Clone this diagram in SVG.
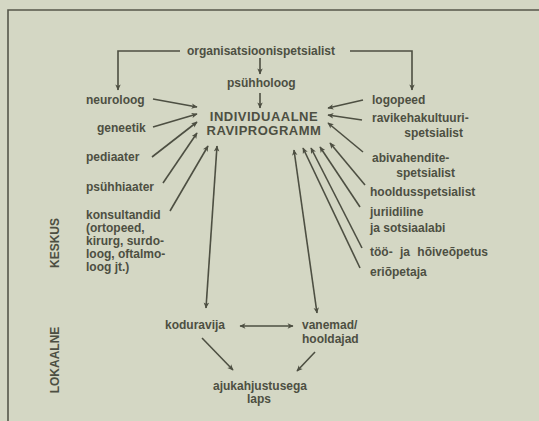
<svg xmlns="http://www.w3.org/2000/svg" width="539" height="421" viewBox="0 0 539 421">
<defs>
<style>
.t{font-family:"Liberation Sans",Arial,sans-serif;font-weight:bold;font-size:12px;fill:#4d4f42}
.big{font-size:13px;letter-spacing:0.5px}
.c{stroke:#4d4f42;stroke-width:1.6;fill:none;marker-end:url(#ah)}
.d{marker-start:url(#ah)}
</style>
<marker id="ah" viewBox="0 0 10 10" refX="9" refY="5" markerWidth="8" markerHeight="6" markerUnits="userSpaceOnUse" orient="auto-start-reverse">
<path d="M0,0.5 L10,5 L0,9.5 L2.5,5 z" fill="#4d4f42"/>
</marker>
</defs>
<rect width="539" height="421" fill="#d4d7c4"/>
<g id="frame" stroke="#55574a" stroke-width="1.6" fill="none">
<path d="M539,10 H8 V421"/>
</g>
<g id="connectors">
<path class="c" d="M180,51 H118 V90"/>
<path class="c" d="M350,51 H412 V90"/>
<path class="c" d="M260,58 V74"/>
<path class="c" d="M260,93 V108"/>
<path class="c" d="M153,99 L197,107"/>
<path class="c" d="M153,127 L197,114"/>
<path class="c" d="M152,157 L197,122"/>
<path class="c" d="M163,183 L197,133"/>
<path class="c" d="M170,211 L208,146"/>
<path class="c d" d="M206,308 L217,146"/>
<path class="c" d="M363,100 L328,108"/>
<path class="c" d="M362,120 L328,115"/>
<path class="c" d="M363,152 L328,123"/>
<path class="c" d="M365,185 L330,143"/>
<path class="c" d="M360,207 L320,147"/>
<path class="c" d="M362,248 L311,148"/>
<path class="c" d="M360,268 L303,148"/>
<path class="c d" d="M317,313 L294,150"/>
<path class="c d" d="M240,326 L293,326"/>
<path class="c" d="M202,338 L233,370"/>
<path class="c" d="M315,352 L297,371"/>
</g>
<g id="organisatsioonispetsialist"><text class="t" x="187" y="55">organisatsioonispetsialist</text></g>
<g id="psuhholoog"><text class="t" x="227" y="87">psühholoog</text></g>
<g id="raviprogramm">
<text class="t big" x="264" y="121" text-anchor="middle">INDIVIDUAALNE</text>
<text class="t big" x="264" y="135" text-anchor="middle">RAVIPROGRAMM</text>
</g>
<g id="neuroloog"><text class="t" x="86" y="104">neuroloog</text></g>
<g id="geneetik"><text class="t" x="97" y="132">geneetik</text></g>
<g id="pediaater"><text class="t" x="86" y="161">pediaater</text></g>
<g id="psuhhiaater"><text class="t" x="86" y="191">psühhiaater</text></g>
<g id="konsultandid">
<text class="t" x="86" y="219">konsultandid</text>
<text class="t" x="86" y="232">(ortopeed,</text>
<text class="t" x="86" y="245">kirurg, surdo-</text>
<text class="t" x="86" y="258">loog, oftalmo-</text>
<text class="t" x="86" y="271">loog jt.)</text>
</g>
<g id="logopeed"><text class="t" x="372" y="104">logopeed</text></g>
<g id="ravikehakultuuri">
<text class="t" x="372" y="122">ravikehakultuuri-</text>
<text class="t" x="463" y="137" text-anchor="end">spetsialist</text>
</g>
<g id="abivahendite">
<text class="t" x="372" y="162">abivahendite-</text>
<text class="t" x="455" y="177" text-anchor="end">spetsialist</text>
</g>
<g id="hooldusspetsialist"><text class="t" x="370" y="196">hooldusspetsialist</text></g>
<g id="juriidiline">
<text class="t" x="370" y="216">juriidiline</text>
<text class="t" x="370" y="232">ja sotsiaalabi</text>
</g>
<g id="hoiveopetus"><text class="t" x="370" y="256" style="word-spacing:4px">töö- ja hõiveõpetus</text></g>
<g id="eriopetaja"><text class="t" x="370" y="276">eriõpetaja</text></g>
<g id="koduravija"><text class="t" x="165" y="329">koduravija</text></g>
<g id="vanemad">
<text class="t" x="302" y="329">vanemad/</text>
<text class="t" x="302" y="343">hooldajad</text>
</g>
<g id="laps">
<text class="t" x="260" y="390" text-anchor="middle">ajukahjustusega</text>
<text class="t" x="259" y="403" text-anchor="middle">laps</text>
</g>
<g id="keskus"><text class="t" transform="translate(59,243) rotate(-90)" text-anchor="middle">KESKUS</text></g>
<g id="lokaalne"><text class="t" transform="translate(59,360) rotate(-90)" text-anchor="middle">LOKAALNE</text></g>
</svg>
